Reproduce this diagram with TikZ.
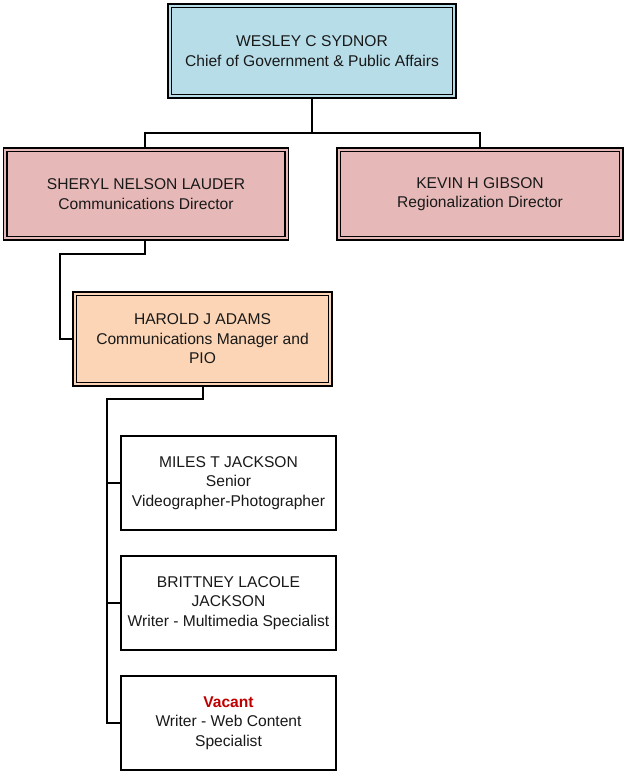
\documentclass[tikz,border=0pt]{standalone}
\usepackage{fontspec}
\setmainfont{Liberation Sans}
\definecolor{topblue}{HTML}{B7DDE8}
\definecolor{pinkbox}{HTML}{E6B9B8}
\definecolor{peachbox}{HTML}{FBD5B5}
\definecolor{vacantred}{HTML}{C00000}
\begin{document}
\begin{tikzpicture}[x=1bp,y=-1bp,
  txt/.style={font=\fontsize{15.6bp}{19.5bp}\selectfont, align=center, text=black!90, inner sep=0pt},
  dbox/.style={txt, draw=black, line width=1.4bp, double distance=2.4bp, outer sep=2.6bp},
  sbox/.style={txt, draw=black, line width=1.6bp, fill=white, outer sep=0.8bp},
  conn/.style={draw=black, line width=1.6bp}]
\useasboundingbox (0,0) rectangle (626,772);
% boxes
\node[dbox, fill=topblue, double=topblue, minimum width=284.5bp, minimum height=90.5bp] (wes) at (312,51)
  {WESLEY C SYDNOR\\Chief of Government \& Public Affairs};
\node[dbox, fill=pinkbox, double=pinkbox, minimum width=281.5bp, minimum height=88.5bp] (sher) at (146,194)
  {SHERYL NELSON LAUDER\\Communications Director};
\node[dbox, fill=pinkbox, double=pinkbox, minimum width=282.5bp, minimum height=88.5bp] (kev) at (480,194)
  {KEVIN H GIBSON\\Regionalization Director};
\node[dbox, fill=peachbox, double=peachbox, minimum width=255.5bp, minimum height=90.5bp] (har) at (202.5,339)
  {HAROLD J ADAMS\\Communications Manager and\\PIO};
\node[sbox, minimum width=215.5bp, minimum height=94bp] (mil) at (228.5,483)
  {MILES T JACKSON\\Senior\\Videographer-Photographer};
\node[sbox, minimum width=215.5bp, minimum height=94bp] (bri) at (228.5,603)
  {BRITTNEY LACOLE\\JACKSON\\Writer - Multimedia Specialist};
\node[sbox, minimum width=215.5bp, minimum height=94bp] (vac) at (228.5,723)
  {{\color{vacantred}\bfseries Vacant}\\Writer - Web Content\\Specialist};
% connectors
\coordinate (j1) at (312,133);
\coordinate (j2) at (145,254);
\coordinate (j3) at (60,254);
\coordinate (j4) at (203,399);
\coordinate (j5) at (107,399);
\draw[conn] (wes.south) -- (j1);
\draw[conn] (sher.north -| j2) |- (j1) -| (kev.north);
\draw[conn] (sher.south -| j2) -- (j2) -- (j3) |- (har.west);
\draw[conn] (har.south -| j4) -- (j4) -- (j5) |- (vac.west);
\draw[conn] (j5) |- (mil.west);
\draw[conn] (j5) |- (bri.west);
\end{tikzpicture}
\end{document}
